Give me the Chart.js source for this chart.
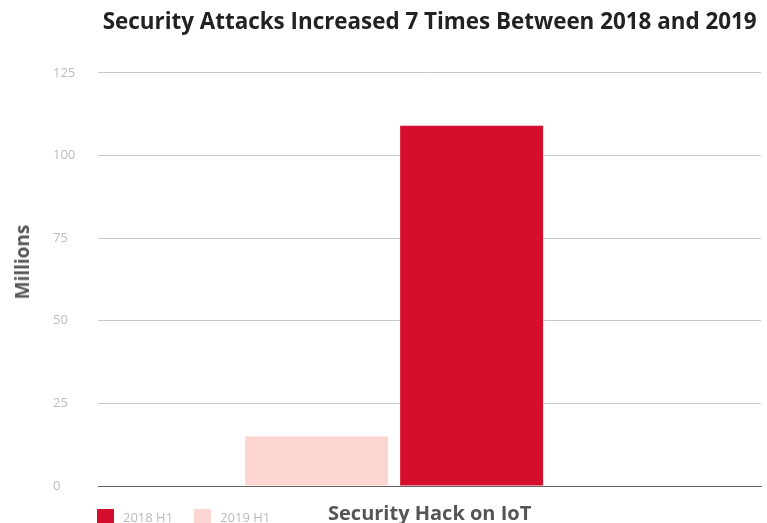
<!DOCTYPE html>
<html>
<head>
<meta charset="utf-8">
<title>Security Attacks</title>
<script src="https://cdn.jsdelivr.net/npm/chart.js@4.4.1/dist/chart.umd.min.js"></script>
<style>
    body { margin: 0; background: #fff; overflow: hidden; font-family: "Open Sans", sans-serif; }
    #container { position: relative; width: 767px; height: 523px; overflow: hidden; }
    #y-title {
        position: absolute; left: 22px; top: 262px;
        transform: translate(-50%, -50%) rotate(-90deg);
        font-weight: bold; font-size: 19px; color: #555; white-space: nowrap;
    }
    #legend { position: absolute; left: 97px; top: 508px; display: flex; align-items: center; font-size: 13px; color: #bbb; }
    .legend-item { display: flex; align-items: center; margin-right: 21px; }
    .legend-box { width: 17px; height: 16px; margin-right: 9px; }
</style>
</head>
<body>
<div id="container">
    <canvas id="attacks-chart" width="767" height="540"></canvas>
    <div id="y-title">Millions</div>
    <div id="legend"></div>
</div>
<script>
const categories = ['Security Hack on IoT'];
const hacks2019H1 = [15];
const hacks2018H1 = [109];
const yTicks = [0, 25, 50, 75, 100, 125];

const RED = '#d50e2e';
const PINK = '#fdd5d1';

function toPoints(values) {
    // bars sit on the category index
    return values.map((v, i) => ({ x: i, y: v }));
}

function drawChart() {
    const ctx = document.getElementById('attacks-chart').getContext('2d');
    const chart = new Chart(ctx, {
        type: 'bar',
        data: {
            datasets: [{
                label: '2019 H1',
                data: toPoints(hacks2019H1),
                backgroundColor: PINK,
            }, {
                label: '2018 H1',
                data: toPoints(hacks2018H1),
                backgroundColor: RED,
            }],
        },
        options: {
            responsive: false,
            animation: false,
            categoryPercentage: 0.4676,
            barPercentage: 0.9226,
            layout: { padding: { left: 53, right: 6, top: 0, bottom: 0 } },
            plugins: {
                legend: { display: false },
                tooltip: { enabled: false },
                title: {
                    display: true,
                    fullSize: false,
                    text: 'Security Attacks Increased 7 Times Between 2018 and 2019',
                    color: '#222',
                    font: { family: 'Open Sans', size: 22.4, weight: 'bold' },
                    padding: { top: 9, bottom: 37.1 },
                },
            },
            scales: {
                x: {
                    type: 'linear',
                    bounds: 'data',
                    offset: false,
                    // empty room on the right of the group, like the original
                    min: -0.5,
                    max: 0.62,
                    grid: { display: false },
                    border: { color: '#666' },
                    ticks: { display: false },
                    afterBuildTicks: scale => {
                        scale.ticks = categories.map((c, i) => ({ value: i }));
                    },
                    title: {
                        display: true,
                        text: categories[0],
                        color: '#555',
                        font: { family: 'Open Sans', size: 20, weight: 'bold' },
                        padding: { top: 8.5, bottom: 13.5 },
                    },
                },
                y: {
                    min: yTicks[0],
                    max: yTicks[yTicks.length - 1],
                    border: { display: false },
                    grid: {
                        drawTicks: false,
                        color: c => c.tick && c.tick.value === 0 ? '#666' : '#c8c8c8',
                    },
                    ticks: {
                        stepSize: yTicks[1] - yTicks[0],
                        crossAlign: 'far',
                        padding: 11.5,
                        color: '#bbb',
                        font: { family: 'Open Sans', size: 13 },
                    },
                },
            },
        },
    });

    // legend shows 2018 first
    const legend = document.getElementById('legend');
    chart.data.datasets.slice().reverse().forEach(ds => {
        const item = document.createElement('div');
        item.className = 'legend-item';
        item.innerHTML = `<span class="legend-box" style="background:${ds.backgroundColor}"></span>${ds.label}`;
        legend.appendChild(item);
    });
}

window.onload = () => {
    drawChart();
}
</script>
</body>
</html>
